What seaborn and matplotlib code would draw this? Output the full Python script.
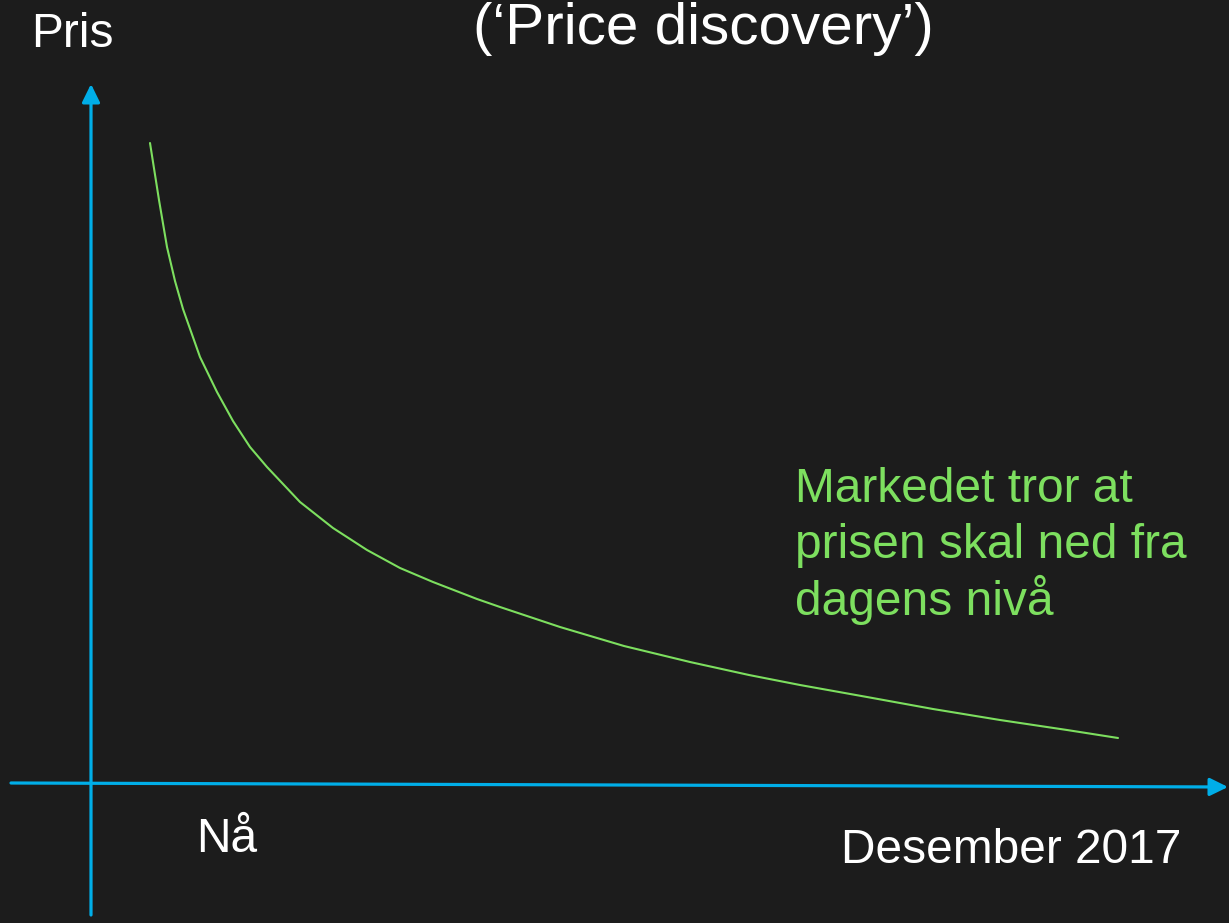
import matplotlib
matplotlib.use("Agg")
import matplotlib.pyplot as plt
import seaborn as sns

# Curve (pixel-like coordinates, y grows downward)
tid = [150, 159, 167, 175, 183, 200, 217, 233, 250, 267, 300, 333, 367, 400,
       433, 477, 500, 560, 624, 690, 749, 800, 867, 933, 1000, 1067, 1118]
pris = [143, 200, 247, 281, 309, 357, 392, 421, 447, 467, 502, 528, 550, 568,
        582, 599, 607, 627, 646, 662, 675, 685, 697, 709, 720, 730, 738]

tittel = "(\u2018Price discovery\u2019)"
y_label = "Pris"
x_start_label = "N\u00e5"
x_end_label = "Desember 2017"
kommentar = ["Markedet tror at", "prisen skal ned fra", "dagens niv\u00e5"]

bg = "#1c1c1c"
blue = "#00aee8"
green = "#7ddf5f"

sns.set_theme(style="dark", rc={"axes.facecolor": bg, "figure.facecolor": bg})
plt.rcParams["font.family"] = ["Liberation Sans", "DejaVu Sans"]

fig = plt.figure(figsize=(12.29, 9.23), dpi=100)
ax = fig.add_axes([0, 0, 1, 1])
ax.set_xlim(0, 1229)
ax.set_ylim(923, 0)
ax.set_axis_off()

# axes drawn as arrows
arrow = dict(arrowstyle="-|>,head_length=0.55,head_width=0.27", color=blue,
             lw=2.3, mutation_scale=20, shrinkA=0, shrinkB=0)
ax.annotate("", xy=(91, 84), xytext=(91, 915), arrowprops=arrow)
ax.annotate("", xy=(1228, 787), xytext=(11, 783), arrowprops=arrow)

sns.lineplot(x=tid, y=pris, ax=ax, color=green, linewidth=1.5, sort=False)

fs = 34.5
ax.text(31, 47, y_label, color="white", fontsize=fs, va="baseline")
ax.text(473, 44, tittel, color="white", fontsize=42, va="baseline")
ax.text(196, 852, x_start_label, color="white", fontsize=fs, va="baseline")
ax.text(841, 863, x_end_label, color="white", fontsize=fs, va="baseline")
for i, line in enumerate(kommentar):
    ax.text(795, 502 + i * 56.5, line, color=green, fontsize=fs, va="baseline")

fig.savefig("out.png", dpi=100, facecolor=bg)
